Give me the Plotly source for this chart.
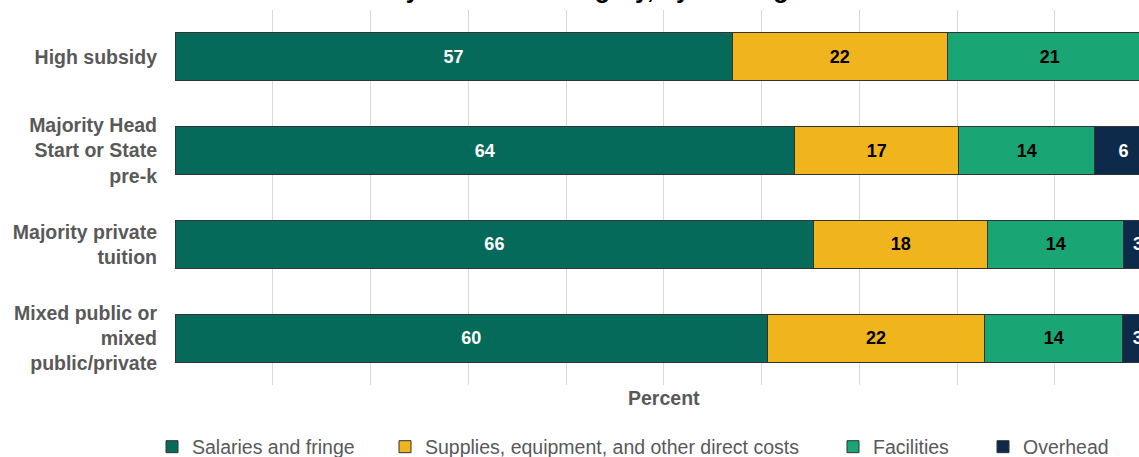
import plotly.graph_objects as go

categories = [
    "High subsidy",
    "Majority Head<br>Start or State<br>pre-k",
    "Majority private<br>tuition",
    "Mixed public or<br>mixed<br>public/private",
]
salaries = [57, 64, 66, 60]
supplies = [22, 17, 18, 22]
facilities = [21, 14, 14, 14]
overhead = [None, 6, 3, 3]

series_names = [
    "Salaries and fringe",
    "Supplies, equipment, and other direct costs",
    "Facilities",
    "Overhead",
]
series_values = [salaries, supplies, facilities, overhead]
colors = ["#066A5B", "#F0B41C", "#19A574", "#0D2A4A"]
text_colors = ["#FFFFFF", "#000000", "#000000", "#FFFFFF"]
legend_ids = ["legend", "legend2", "legend3", "legend4"]
legend_left_px = [152, 385, 833, 983]

FONT = "Liberation Sans, Arial, sans-serif"
W, H = 1139, 457
L_MARGIN = 175

fig = go.Figure()
for name, vals, col, tcol, lid in zip(series_names, series_values, colors, text_colors, legend_ids):
    fig.add_trace(go.Bar(
        y=categories,
        x=vals,
        name=name,
        orientation="h",
        marker=dict(color=col, line=dict(color="#333333", width=1)),
        text=["" if v is None else str(v) for v in vals],
        texttemplate="%{text}",
        textposition="inside",
        insidetextanchor="middle",
        textangle=0,
        constraintext="none",
        textfont=dict(family=FONT, size=18, color=tcol, weight="bold"),
        legend=lid,
        hoverinfo="skip",
        cliponaxis=True,
    ))

legend_common = dict(
    orientation="h",
    xref="container", yref="container",
    yanchor="middle", xanchor="left",
    y=10 / H,
    font=dict(family=FONT, size=19.5, color="#595959"),
    bgcolor="rgba(0,0,0,0)",
    borderwidth=0,
)
legend_layout = {}
for lid, lx in zip(legend_ids, legend_left_px):
    legend_layout[lid] = dict(legend_common, x=lx / W)

# x range such that the visible plot width ends at the window edge (axis is a 0-100 percent scale)
px_per_pct = 9.775
x_max = (W - L_MARGIN) / px_per_pct

fig.update_layout(
    width=W, height=H,
    margin=dict(l=L_MARGIN, r=0, t=10, b=72, autoexpand=False),
    paper_bgcolor="white", plot_bgcolor="white",
    barmode="stack",
    barnorm="percent",
    bargap=0.49,
    showlegend=True,
    font=dict(family=FONT, color="#595959"),
    xaxis=dict(
        range=[0, x_max],
        dtick=10, tick0=0,
        showgrid=True, gridcolor="#D9D9D9", gridwidth=1,
        zeroline=False,
        showticklabels=False,
        showline=False,
        ticks="",
        fixedrange=True,
        automargin=False,
    ),
    yaxis=dict(
        autorange="reversed",
        showgrid=False,
        zeroline=False,
        showline=False,
        ticks="",
        ticklabelstandoff=17,
        tickfont=dict(family=FONT, size=19.5, color="#595959", weight="bold"),
        fixedrange=True,
        automargin=False,
    ),
    annotations=[
        dict(
            text="Percent", xref="x", x=50, yref="paper", y=0,
            xanchor="center", yanchor="middle", yshift=-12.5,
            showarrow=False,
            font=dict(family=FONT, size=19.5, color="#595959", weight="bold"),
        ),
        dict(
            text="Costs by total cost category, by funding source",
            xref="paper", x=(312 - L_MARGIN) / (W - L_MARGIN), xanchor="left",
            yref="paper", y=1, yanchor="bottom", yshift=5,
            showarrow=False,
            font=dict(family=FONT, size=25, color="#000000", weight="bold"),
        ),
    ],
    **legend_layout,
)

fig.write_html(
    "out.html",
    config={"displayModeBar": False},
    post_script="document.body.style.margin='0px';",
)
